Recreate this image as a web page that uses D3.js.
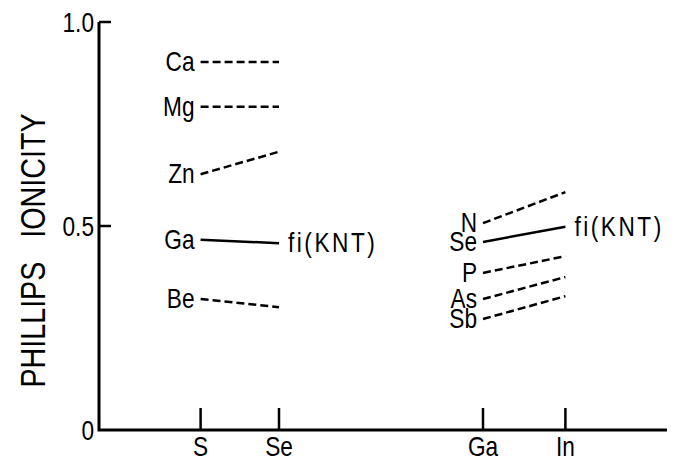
<!DOCTYPE html>
<html>
<head>
<meta charset="utf-8">
<script src="https://cdn.jsdelivr.net/npm/d3@7"></script>
<style>
  body { margin: 0; background: #fff; }
  text { font-family: "Liberation Sans", sans-serif; fill: #000; }
</style>
</head>
<body>
<div id="chart"></div>
<script>
// x categories and where they sit along the abscissa
const xLabels = ["S", "Se", "Ga", "In"];
const xSlots = [1.27, 2.25, 4.8, 5.83];

// left group: cation with S -> Se
const leftNames = ["Ca", "Mg", "Zn", "Ga", "Be"];
const leftS = [0.902, 0.792, 0.627, 0.466, 0.321];
const leftSe = [0.902, 0.792, 0.682, 0.458, 0.301];
const leftSolid = [false, false, false, true, false];

// right group: anion with Ga -> In
const rightNames = ["N", "Se", "P", "As", "Sb"];
const rightGa = [0.507, 0.461, 0.385, 0.321, 0.272];
const rightIn = [0.583, 0.498, 0.426, 0.375, 0.328];
const rightSolid = [false, true, false, false, false];

const yTicks = [0, 0.5, 1.0];
const yTickText = ["0", "0.5", "1.0"];

const W = 675, H = 467;
const NARROW = 0.84; // squeeze glyphs to look like the plotter lettering

const svg = d3.select("#chart").append("svg").attr("width", W).attr("height", H);

const x = d3.scaleLinear().domain([0, 7.1]).range([99, 667]);
const y = d3.scaleLinear().domain([0, 1]).range([430, 22]);

// narrow text helper
function label(px, py, str, anchor, size, extra) {
  const t = svg.append("text")
    .attr("transform", `translate(${px},${py}) scale(${NARROW},1)`)
    .attr("text-anchor", anchor)
    .attr("dominant-baseline", "middle")
    .attr("font-size", size)
    .text(str);
  if (extra) t.attr("letter-spacing", extra);
  return t;
}

// axes
svg.append("path")
  .attr("d", `M${x(0)},${y(1)}V${y(0)}H${x(7.1)}`)
  .attr("fill", "none").attr("stroke", "#000").attr("stroke-width", 3);

// y ticks (inward) + labels
yTicks.forEach((v, i) => {
  if (v > 0) {
    svg.append("line")
      .attr("x1", x(0)).attr("x2", x(0) + 12)
      .attr("y1", y(v)).attr("y2", y(v))
      .attr("stroke", "#000").attr("stroke-width", 2.5);
  }
  label(x(0) - 5, y(v) + 3, yTickText[i], "end", 27);
});

// x ticks (upward) + labels
xSlots.forEach((s, i) => {
  svg.append("line")
    .attr("x1", x(s)).attr("x2", x(s))
    .attr("y1", y(0)).attr("y2", y(0) - 22)
    .attr("stroke", "#000").attr("stroke-width", 2.5);
  label(x(s), 449, xLabels[i], "middle", 27);
});

// y title
svg.append("text")
  .attr("transform", `translate(45,${y(0.44)}) rotate(-90) scale(0.82,1)`)
  .attr("text-anchor", "middle").attr("font-size", 35)
  .attr("xml:space", "preserve")
  .text("PHILLIPS   IONICITY");

// series lines
function drawGroup(names, a, b, solid, xa, xb) {
  names.forEach((n, i) => {
    svg.append("line")
      .attr("x1", x(xa)).attr("y1", y(a[i]))
      .attr("x2", x(xb)).attr("y2", y(b[i]))
      .attr("stroke", "#000").attr("stroke-width", 2.5)
      .attr("stroke-dasharray", solid[i] ? null : "8,4");
    label(x(xa) - 6, y(a[i]) + 2, n, "end", 27);
    if (solid[i]) {
      label(x(xb) + 9, y(b[i]) + 2, "fi(KNT)", "start", 27, 3);
    }
  });
}

drawGroup(leftNames, leftS, leftSe, leftSolid, xSlots[0], xSlots[1]);
drawGroup(rightNames, rightGa, rightIn, rightSolid, xSlots[2], xSlots[3]);
</script>
</body>
</html>
